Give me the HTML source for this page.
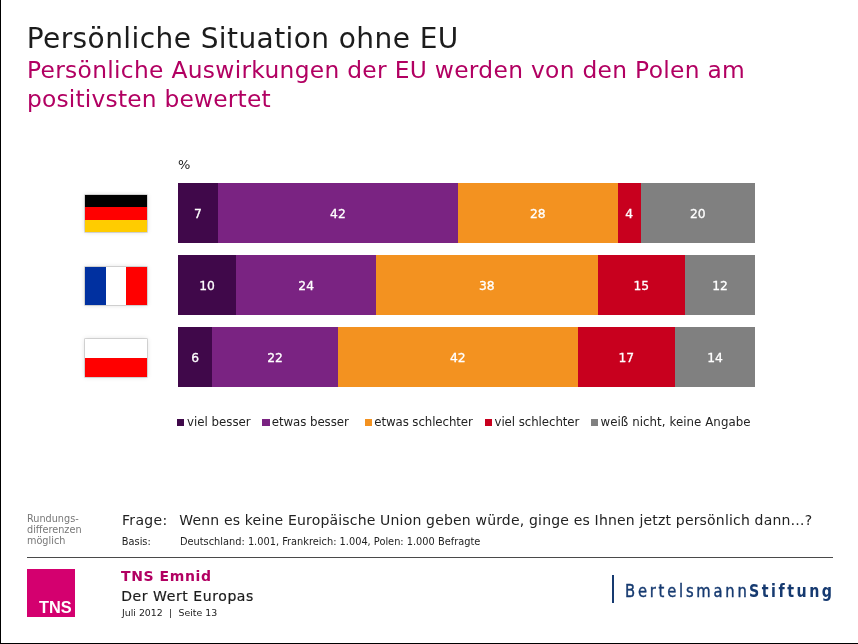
<!DOCTYPE html>
<html lang="de">
<head>
<meta charset="utf-8">
<title>Persönliche Situation ohne EU</title>
<style>
html,body{margin:0;padding:0;}
body{width:858px;height:644px;position:relative;overflow:hidden;background:#fff;
  font-family:"DejaVu Sans","Liberation Sans",sans-serif;color:#1e1e1e;}
.frame{position:absolute;left:0;top:0;width:857px;height:643px;border-left:1px solid #000;border-bottom:1px solid #000;box-sizing:content-box;}
.t{position:absolute;white-space:nowrap;line-height:1;margin:0;}
#title{left:26.7px;top:24.8px;font-size:28px;letter-spacing:.42px;color:#1c1c1c;}
#sub1{left:27px;top:59.1px;font-size:23.33px;letter-spacing:.31px;color:#b20062;}
#sub2{left:27px;top:87.9px;font-size:23.33px;letter-spacing:.2px;color:#b20062;}
#pct{left:177.6px;top:159px;font-size:12.4px;color:#222;transform:scaleX(1.05);transform-origin:0 0;}
.bar{position:absolute;left:178px;width:577px;height:60px;display:flex;}
.bar div{height:100%;color:#fff;font-size:12.3px;display:flex;align-items:center;justify-content:center;box-sizing:border-box;padding-top:2.4px;-webkit-text-stroke:.3px #fff;}
.c1{background:#40084a;}
.c2{background:#7a2382;}
.c3{background:#f39220;}
.c4{background:#c8001e;}
.c5{background:#808080;}
.flag{position:absolute;left:85px;width:62px;height:37px;box-shadow:0 0 0 .6px rgba(0,0,0,.22),0 0 5px rgba(0,0,0,.16);}
.lg{position:absolute;top:418.5px;width:7.4px;height:7.1px;}
.lt{top:417.2px;font-size:11.8px;color:#222;}
#note{left:27px;top:513.8px;font-size:9.7px;line-height:10.9px;color:#777;white-space:normal;width:70px;}
#frage{left:122px;top:512.9px;font-size:14px;letter-spacing:.33px;color:#222;}
#fragetxt{left:179.2px;top:512.9px;font-size:14px;letter-spacing:.18px;color:#222;}
#basis{left:121.8px;top:536.8px;font-size:9.8px;color:#222;}
#basistxt{left:180px;top:536.8px;font-size:9.8px;color:#222;}
#rule{position:absolute;left:26.5px;top:557px;width:806.5px;height:1.1px;background:#4a4a4a;}
#tns{position:absolute;left:27px;top:569px;width:48px;height:48.2px;background:#d4006f;}
#tnst{left:38.8px;top:598.8px;font-family:"Liberation Sans",sans-serif;font-weight:bold;font-size:17.2px;color:#fff;transform:scaleX(.95);transform-origin:0 0;}
#emnid{left:121px;top:568.5px;font-size:14px;font-weight:bold;letter-spacing:.6px;color:#b20062;}
#wert{left:121.2px;top:588.7px;font-size:14px;letter-spacing:.58px;color:#1c1c1c;-webkit-text-stroke:.2px #1c1c1c;}
#seite{left:122px;top:607.5px;font-size:9.4px;color:#222;}
#bvl{position:absolute;left:611.8px;top:575px;width:1.9px;height:28.3px;background:#163a70;}
#bert,#stift{top:581.6px;font-family:"DejaVu Sans Condensed","DejaVu Sans",sans-serif;font-size:18.2px;color:#163a70;transform-origin:0 0;}
#bert{left:625.2px;letter-spacing:3.1px;transform:scaleX(.9);-webkit-text-stroke:.4px #163a70;}
#stift{left:748.6px;font-weight:bold;letter-spacing:2.9px;transform:scaleX(.87);}
</style>
</head>
<body>
<div class="frame"></div>
<h1 class="t" id="title" style="font-weight:normal">Persönliche Situation ohne EU</h1>
<div class="t" id="sub1">Persönliche Auswirkungen der EU werden von den Polen am</div>
<div class="t" id="sub2">positivsten bewertet</div>

<div class="t" id="pct">%</div>

<!-- flags -->
<div class="flag" style="top:195px;background:linear-gradient(#000 0 12px,#f00 12px 24.75px,#fc0 24.75px 100%)"></div>
<div class="flag" style="top:267px;height:37.8px;background:linear-gradient(90deg,#0030a0 0 20.6px,#fff 20.6px 41.1px,#f00 41.1px 100%)"></div>
<div class="flag" style="top:339.4px;height:37.5px;background:linear-gradient(#fff 0 18.6px,#f00 18.6px 100%)"></div>

<!-- bars -->
<div class="bar" style="top:183px">
  <div class="c1" style="width:6.93%">7</div><div class="c2" style="width:41.58%">42</div><div class="c3" style="width:27.72%">28</div><div class="c4" style="width:3.96%">4</div><div class="c5" style="flex:1">20</div>
</div>
<div class="bar" style="top:255px">
  <div class="c1" style="width:10.10%">10</div><div class="c2" style="width:24.24%">24</div><div class="c3" style="width:38.38%">38</div><div class="c4" style="width:15.15%">15</div><div class="c5" style="flex:1">12</div>
</div>
<div class="bar" style="top:327px">
  <div class="c1" style="width:5.94%">6</div><div class="c2" style="width:21.78%">22</div><div class="c3" style="width:41.58%">42</div><div class="c4" style="width:16.83%">17</div><div class="c5" style="flex:1">14</div>
</div>

<!-- legend -->
<div class="lg c1" style="left:177.1px"></div><div class="t lt" style="left:187px">viel besser</div>
<div class="lg c2" style="left:262.3px"></div><div class="t lt" style="left:271.7px;letter-spacing:-.06px">etwas besser</div>
<div class="lg c3" style="left:365px"></div><div class="t lt" style="left:374.3px;letter-spacing:-.1px">etwas schlechter</div>
<div class="lg c4" style="left:484.5px"></div><div class="t lt" style="left:494.5px;letter-spacing:-.07px">viel schlechter</div>
<div class="lg c5" style="left:591px"></div><div class="t lt" style="left:600.5px;letter-spacing:.06px">weiß nicht, keine Angabe</div>

<!-- footer -->
<div class="t" id="note">Rundungs-<br>differenzen<br>möglich</div>
<div class="t" id="frage">Frage:</div>
<div class="t" id="fragetxt">Wenn es keine Europäische Union geben würde, ginge es Ihnen jetzt persönlich dann…?</div>
<div class="t" id="basis">Basis:</div>
<div class="t" id="basistxt">Deutschland: 1.001, Frankreich: 1.004, Polen: 1.000 Befragte</div>
<div id="rule"></div>
<div id="tns"></div>
<div class="t" id="tnst">TNS</div>
<div class="t" id="emnid">TNS Emnid</div>
<div class="t" id="wert">Der Wert Europas</div>
<div class="t" id="seite">Juli 2012 <span style="margin:0 3.4px 0 3.2px">|</span> Seite 13</div>
<div id="bvl"></div>
<div class="t" id="bert">Bertelsmann</div><div class="t" id="stift">Stiftung</div>
</body>
</html>
